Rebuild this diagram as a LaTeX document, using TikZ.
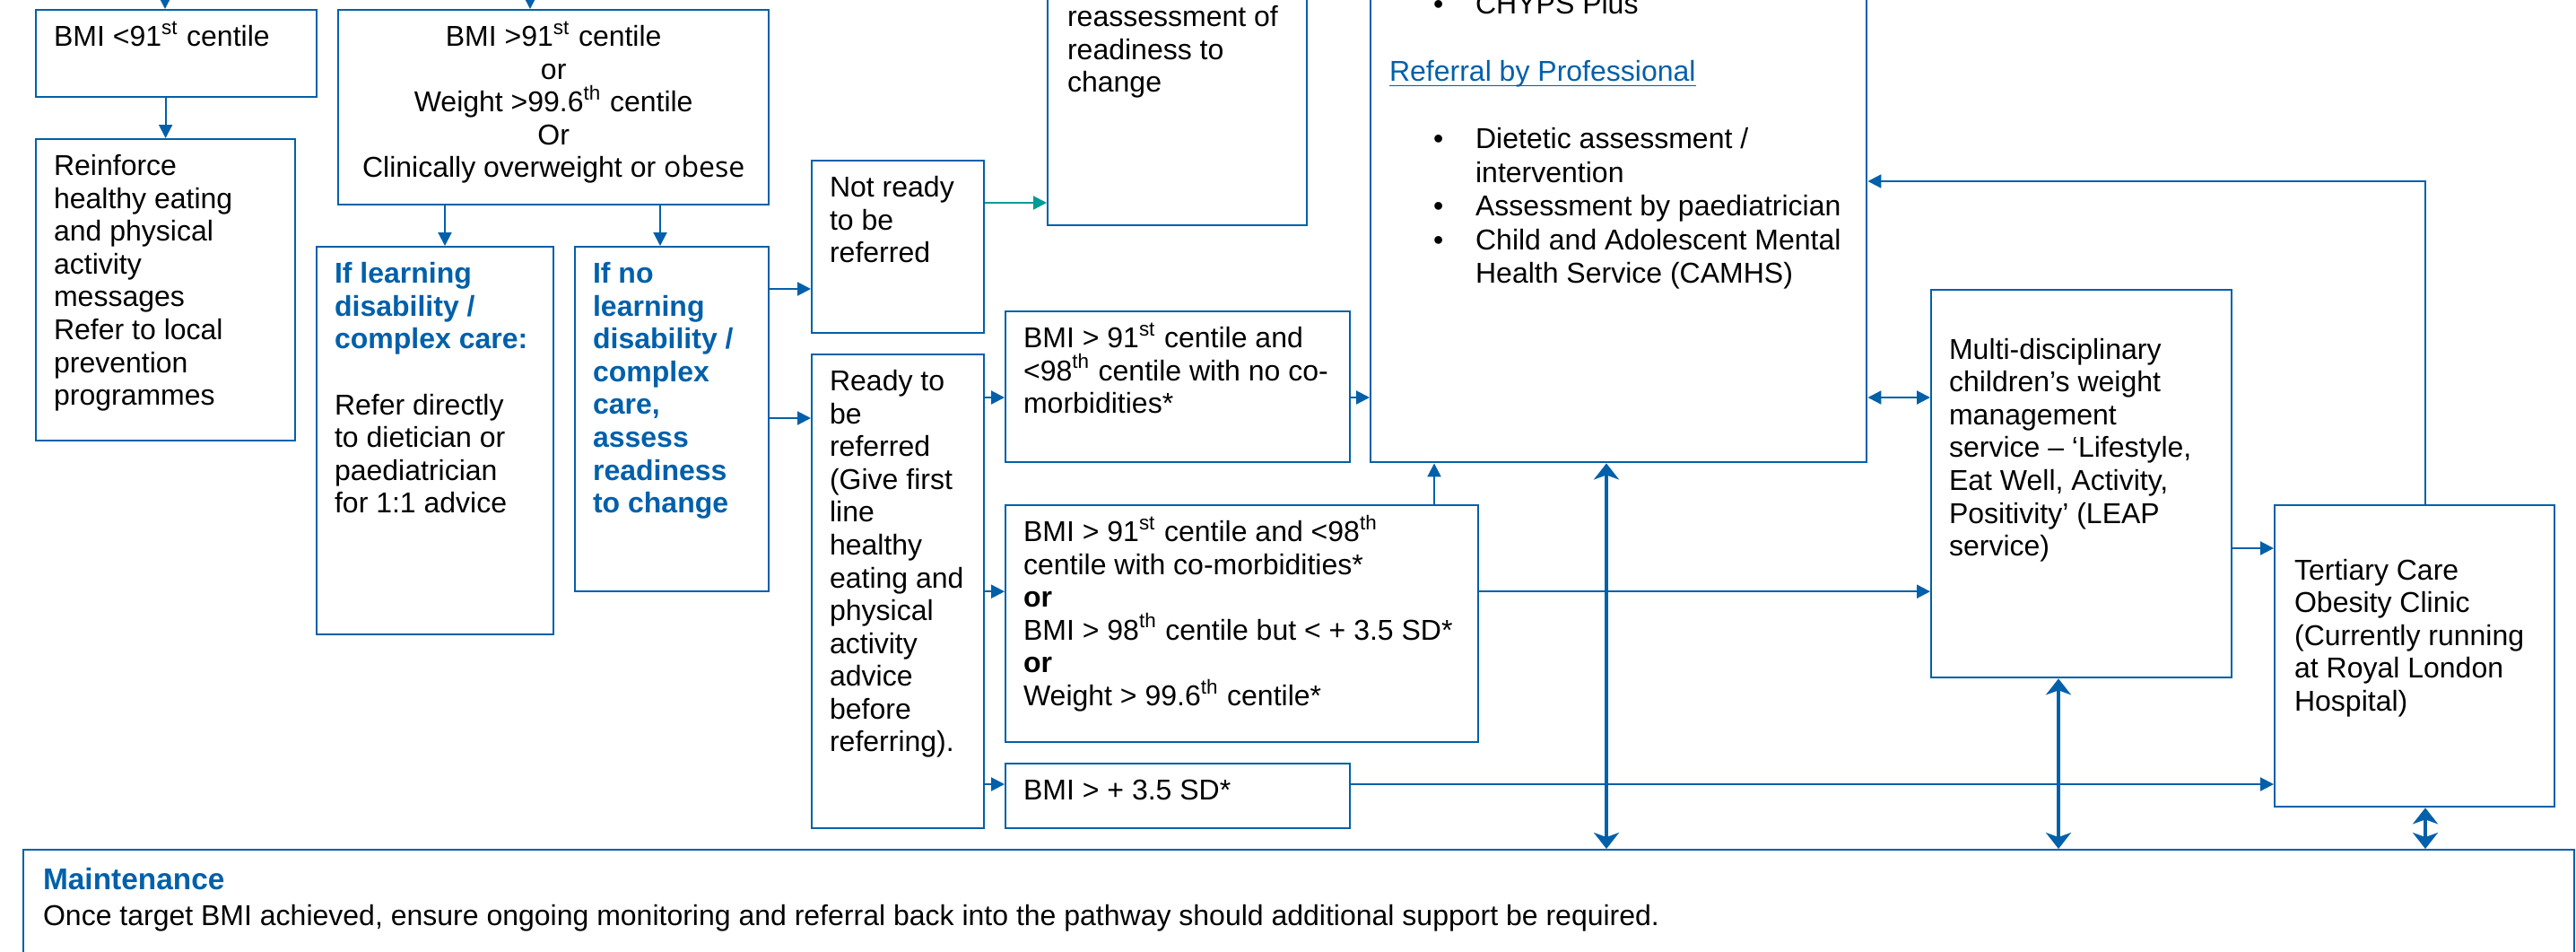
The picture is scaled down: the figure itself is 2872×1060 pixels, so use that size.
\documentclass[tikz,border=0pt]{standalone}
\usepackage{fontspec}
\usepackage{xcolor}
\usepackage{tikz}
\usetikzlibrary{arrows.meta}

\setmainfont{Liberation Sans}
\newfontfamily\altfont{Open Sans}

\definecolor{nhsblue}{HTML}{0060AA}
\definecolor{nhsteal}{HTML}{009B96}

\newcommand{\ord}[1]{\smash{\textsuperscript{#1}}}
\newcommand{\boxtext}[3]{\parbox[t][#2][t]{#1}{\raggedright\strut #3}}
\newcommand{\bul}{\hspace*{0.49cm}\makebox[0.47cm][l]{\textbullet}}

\tikzset{
  box/.style={draw=nhsblue, line width=0.6pt, rectangle, anchor=north west, inner xsep=0.2cm, inner ysep=0.15cm, font=\fontsize{9.1pt}{10.4pt}\selectfont},
  arr/.style={nhsblue, line width=0.6pt, -{Triangle[length=0.15cm, width=0.15cm]}},
  biarr/.style={nhsblue, line width=0.6pt, {Triangle[length=0.15cm, width=0.15cm]}-{Triangle[length=0.15cm, width=0.15cm]}},
  bigarr/.style={nhsblue, line width=1.4pt, {Stealth[length=0.18cm, width=0.28cm, inset=0.05cm]}-{Stealth[length=0.18cm, width=0.28cm, inset=0.05cm]}}
}

\begin{document}
\begin{tikzpicture}[x=0.01cm, y=-0.01cm]
            \useasboundingbox (0,0) rectangle (2872,1060);
            \clip (0,0) rectangle (2872,1060);

            \node[box] (bmilow) at (39,10) {\boxtext{2.73cm}{0.67cm}{BMI <91\ord{st} centile}};

            \node[box] (bmihigh) at (376,10) {\boxtext{4.40cm}{1.87cm}{\centering BMI >91\ord{st} centile\\or\\Weight >99.6\ord{th} centile\\Or\\Clinically overweight or {\altfont obese}}};

            \node[box] (reinforce) at (39,154) {\boxtext{2.49cm}{3.06cm}{Reinforce\\healthy eating\\and physical\\activity\\messages\\Refer to local\\prevention\\programmes}};

            \node[box] (ldcare) at (352,274) {\boxtext{2.24cm}{4.02cm}{{\color{nhsblue}\bfseries If learning\\disability /\\complex care:}\\[0.366cm]Refer directly\\to dietician or\\paediatrician\\for 1:1 advice}};

            \node[box] (noldcare) at (640,274) {\boxtext{1.76cm}{3.54cm}{{\color{nhsblue}\bfseries If no\\learning\\disability /\\complex\\care,\\assess\\readiness\\to change}}};

            \node[box, inner xsep=0.22cm] (reassess) at (1167,-12) {\boxtext{2.45cm}{2.32cm}{reassessment of\\readiness to\\change}};

            \node[box] (notready) at (904,178) {\boxtext{1.52cm}{1.62cm}{Not ready\\to be\\referred}};

            \node[box] (ready) at (904,394) {\boxtext{1.52cm}{4.98cm}{Ready to\\be\\referred\\(Give first\\line\\healthy\\eating and\\physical\\activity\\advice\\before\\referring).}};

            \node[box] (bmi9198) at (1120,346) {\boxtext{3.44cm}{1.38cm}{BMI > 91\ord{st} centile and\\<98\ord{th} centile with no co-\\morbidities*}};

            \node[box] (bmicomorb) at (1120,562) {\boxtext{4.87cm}{2.34cm}{BMI > 91\ord{st} centile and <98\ord{th}\\centile with co-morbidities*\\\textbf{or}\\BMI > 98\ord{th} centile but < + 3.5 SD*\\\textbf{or}\\Weight > 99.6\ord{th} centile*}};

            \node[box] (bmisd) at (1120,850) {\boxtext{3.44cm}{0.42cm}{BMI > + 3.5 SD*}};

            \node[box, inner xsep=0.21cm] (services) at (1527,-26) {\boxtext{5.11cm}{5.10cm}{\fontsize{9.1pt}{0.375cm}\selectfont
              \bul CHYPS Plus\\[0.375cm]
              \textcolor{nhsblue}{\underline{\smash{Referral by Professional}}}\\[0.375cm]
              \bul Dietetic assessment /\\
              \hspace*{0.96cm}intervention\\
              \bul Assessment by paediatrician\\
              \bul Child and Adolescent Mental\\
              \hspace*{0.96cm}Health Service (CAMHS)}};

            \node[box] (mdt) at (2152,322) {\boxtext{2.95cm}{4.02cm}{\mbox{}\\Multi-disciplinary\\children’s weight\\management\\service – ‘Lifestyle,\\Eat Well, Activity,\\Positivity’ (LEAP\\service)}};

            \node[box, inner xsep=0.22cm] (tertiary) at (2535,562) {\boxtext{2.68cm}{3.06cm}{\mbox{}\\[0.06cm]Tertiary Care\\Obesity Clinic\\(Currently running\\at Royal London\\Hospital)}};

            \node[box, inner xsep=0.22cm, inner ysep=0.19cm] (maint) at (25,946) {\boxtext{27.98cm}{1.62cm}{\textcolor{nhsblue}{\fontsize{9.5pt}{10.4pt}\selectfont\bfseries Maintenance}\\[0.03cm]Once target BMI achieved, ensure ongoing monitoring and referral back into the pathway should additional support be required.}};

            \coordinate (fromtop1) at (184,-5);
            \coordinate (fromtop2) at (591,-5);
            \coordinate (ldx) at (496,0);
            \coordinate (nldx) at (736,0);
            \coordinate (notreadyy) at (0,322);
            \coordinate (readyy) at (0,466);
            \coordinate (reassy) at (0,226);
            \coordinate (nocomorby) at (0,443);
            \coordinate (sdy) at (0,874);
            \coordinate (mdty) at (0,611);
            \coordinate (backy) at (0,202);
            \coordinate (upx) at (1599,0);
            \coordinate (maintx1) at (1791,0);
            \coordinate (maintx2) at (2295,0);
            \coordinate (maintx3) at (2704,0);

            \draw[arr] (fromtop1) -- (fromtop1 |- bmilow.north);
            \draw[arr] (fromtop2) -- (fromtop2 |- bmihigh.north);
            \draw[arr] (bmilow.south -| reinforce.north) -- (reinforce.north);
            \draw[arr] (bmihigh.south -| ldx) -- (ldcare.north -| ldx);
            \draw[arr] (bmihigh.south -| nldx) -- (noldcare.north -| nldx);
            \draw[arr] (noldcare.east |- notreadyy) -- (notready.west |- notreadyy);
            \draw[arr] (noldcare.east |- readyy) -- (ready.west |- readyy);
            \draw[arr, nhsteal] (notready.east |- reassy) -- (reassess.west |- reassy);
            \draw[arr] (ready.east |- nocomorby) -- (bmi9198.west |- nocomorby);
            \draw[arr] (ready.east) -- (ready.east -| bmicomorb.west);
            \draw[arr] (ready.east |- sdy) -- (bmisd.west |- sdy);
            \draw[arr] (bmi9198.east |- nocomorby) -- (services.west |- nocomorby);
            \draw[arr] (bmicomorb.north -| upx) -- (services.south -| upx);
            \draw[arr] (bmicomorb.east |- ready.east) -- (mdt.west |- ready.east);
            \draw[arr] (bmisd.east |- sdy) -- (tertiary.west |- sdy);
            \draw[arr] (mdt.east |- mdty) -- (tertiary.west |- mdty);
            \draw[biarr] (services.east |- nocomorby) -- (mdt.west |- nocomorby);
            \draw[arr] (tertiary.north -| maintx3) |- (services.east |- backy);

            \draw[bigarr] (services.south -| maintx1) -- (maint.north -| maintx1);
            \draw[bigarr] (mdt.south -| maintx2) -- (maint.north -| maintx2);
            \draw[bigarr] (tertiary.south -| maintx3) -- (maint.north -| maintx3);
        \end{tikzpicture}
\end{document}
